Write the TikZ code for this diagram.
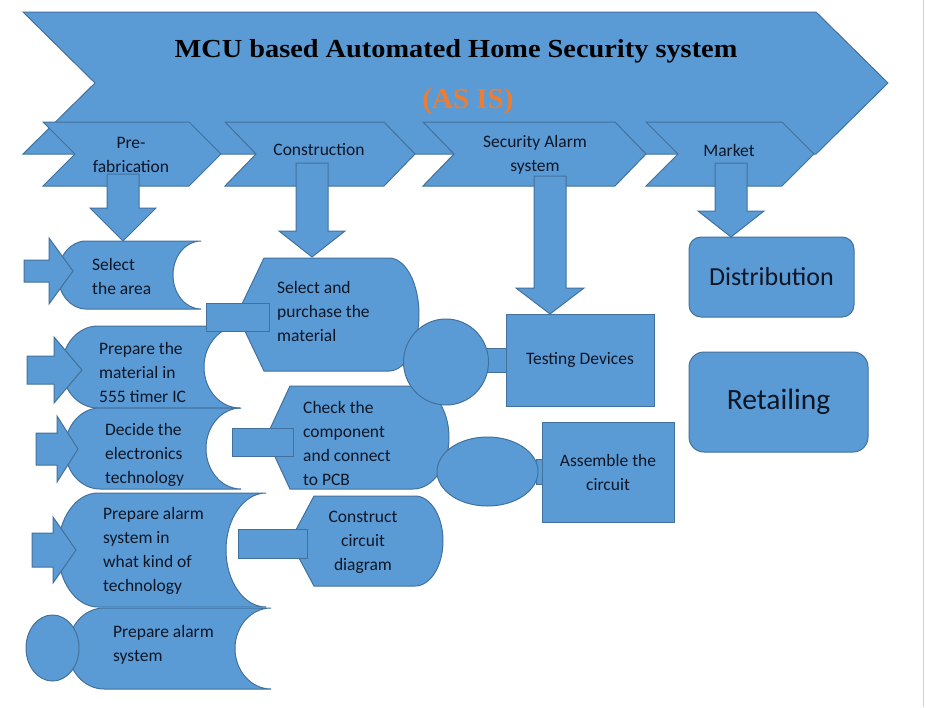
\documentclass[tikz,border=0pt]{standalone}
\usepackage{fontspec}
\usepackage{graphicx}
\setmainfont{Carlito}
\newfontfamily\titlefont{Liberation Serif}
\usetikzlibrary{shapes.geometric}

\definecolor{shapefill}{HTML}{5B9BD5}
\definecolor{shapeline}{HTML}{41719C}
\definecolor{ink}{RGB}{14,22,38}
\definecolor{asis}{HTML}{ED7D31}

% left x, right x, top y, bottom y, depth
\newcommand{\chevshape}[5]{\filldraw[blk] (#1,#3) -- (#2,#3) -- ({#2+#5},{(#3+#4)/2}) -- (#2,#4) -- (#1,#4) -- ({#1+#5},{(#3+#4)/2}) -- cycle;}
% centre x, shaft top, head top, tip, shaft half width, head half width
\newcommand{\blockdown}[6]{\filldraw[blk] ({#1-#5},#2) -- ({#1+#5},#2) -- ({#1+#5},#3) -- ({#1+#6},#3) -- (#1,#4) -- ({#1-#6},#3) -- ({#1-#5},#3) -- cycle;}
% start x, centre y, head x, tip x, shaft half height, head half height
\newcommand{\blockright}[6]{\filldraw[blk] (#1,{#2-#5}) -- (#3,{#2-#5}) -- (#3,{#2-#6}) -- (#4,#2) -- (#3,{#2+#6}) -- (#3,{#2+#5}) -- (#1,{#2+#5}) -- cycle;}
% left x, right x, top y, bottom y, arc depth
\newcommand{\storedshape}[5]{\filldraw[blk] ({#1+#5},#3) -- (#2,#3) arc[start angle=90,end angle=270,x radius=#5pt,y radius={((#4)-(#3))/2*1pt}] -- ({#1+#5},#4) arc[start angle=270,end angle=90,x radius=#5pt,y radius={((#4)-(#3))/2*1pt}] -- cycle;}
% point x, corner x, right x, top y, bottom y, arc depth
\newcommand{\dispshape}[6]{\filldraw[blk] (#2,#4) -- ({#3-#6},#4) arc[start angle=90,end angle=-90,x radius=#6pt,y radius={((#5)-(#4))/2*1pt}] -- (#2,#5) -- (#1,{(#4+#5)/2}) -- cycle;}

\begin{document}
\begin{tikzpicture}[x=1pt, y=-1pt,
  blk/.style={fill=shapefill, draw=shapeline, line width=1pt},
  txt/.style={text=ink, font=\fontsize{17.5}{24}\selectfont, inner sep=0pt},
  lft/.style={txt, align=left, anchor=west},
  box/.style={blk, txt, align=center}]
\fill[white] (0,0) rectangle (926,707);
\useasboundingbox (0,0) rectangle (926,707);
\draw[gray!35, line width=1pt] (923,0) -- (923,707);

\chevshape{23}{816}{12}{154}{72}
\chevshape{43}{189}{122}{186}{32}
\chevshape{225}{384}{122}{186}{31}
\chevshape{423}{615}{122}{186}{31}
\chevshape{646}{782}{122}{186}{32}

\blockdown{123}{174}{208}{241}{16}{33}
\blockdown{312}{163}{231}{257}{16}{33}
\blockdown{550}{176}{288}{314}{16}{34}
\blockdown{731}{163}{211}{237}{16}{33}

\node[font=\titlefont\bfseries\fontsize{26}{30}\selectfont, text=black] (title) at (456,51) {\scalebox{1.09}[1]{MCU based Automated Home Security system}};
\node[font=\titlefont\bfseries\fontsize{29}{32}\selectfont, text=asis] (asis) at (468,102) {(AS IS)};
\node[txt, align=center] (prefab) at (131,155) {Pre-\\fabrication};
\node[txt] (constr) at (319,150) {Construction};
\node[txt, align=center] (alarm) at (535,155) {Security Alarm\\system};
\node[txt] (market) at (729,150) {Market};

\storedshape{58}{201}{241}{309}{28}
\storedshape{62}{240}{326}{408}{36}
\storedshape{65}{241}{408}{489}{35}
\storedshape{58}{266}{493}{607}{40}
\storedshape{68}{271}{608}{689}{36}

\blockright{24}{271}{49}{73}{11}{33}
\blockright{27}{370}{54}{82}{14}{33}
\blockright{36}{449}{57}{78}{16}{33}
\blockright{32}{550}{53}{76}{17}{33}
\node[blk, ellipse, minimum width=53pt, minimum height=66pt] (dot) at (52.5,648) {};

\dispshape{237}{264}{419}{258}{371}{30}
\dispshape{266}{290}{449}{386}{489}{36}
\dispshape{290}{314}{443}{496}{586}{28}
\filldraw[blk] (206,303) rectangle (269,331);
\filldraw[blk] (232,428) rectangle (293,456);
\filldraw[blk] (238,529) rectangle (307,558);

\filldraw[blk] (486,348) rectangle (508,372);
\filldraw[blk] (536,459) rectangle (544,484);
\node[blk, ellipse, minimum width=85pt, minimum height=86pt] (hub) at (446,362) {};
\node[blk, ellipse, minimum width=101pt, minimum height=69pt] (joint) at (487.5,471.5) {};
\node[box, minimum width=148pt, minimum height=92pt] (testing) at (580,360) {Testing Devices};
\node[box, minimum width=132pt, minimum height=100pt] (assemble) at (608,472) {Assemble the\\circuit};
\node[box, rounded corners=12pt, minimum width=165pt, minimum height=80pt, font=\fontsize{26}{30}\selectfont] (distrib) at (771.5,277) {Distribution};
\node[box, rounded corners=15pt, minimum width=179pt, minimum height=100pt, font=\fontsize{29.5}{34}\selectfont] (retail) at (778.5,402) {Retailing};

\node[lft] (selarea) at (92,276) {Select\\the area};
\node[lft] (prepmat) at (99,372) {Prepare the\\material in\\555 timer IC};
\node[lft] (decide) at (105,455) {Decide the\\electronics\\technology};
\node[lft] (prepkind) at (103,551) {Prepare alarm\\system in\\what kind of\\technology};
\node[lft] (prepalarm) at (113,645) {Prepare alarm\\system};
\node[lft] (selbuy) at (277,311) {Select and\\purchase the\\material};
\node[lft] (check) at (303,443) {Check the\\component\\and connect\\to PCB};
\node[txt, align=center] (construct) at (363,542) {Construct\\circuit\\diagram};
\end{tikzpicture}
\end{document}
